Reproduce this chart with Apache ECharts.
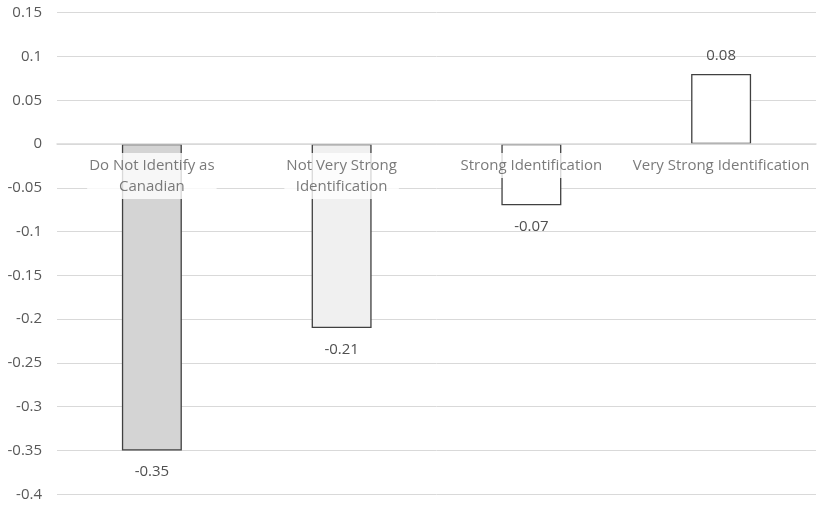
<!DOCTYPE html>
<html>
<head>
<meta charset="utf-8">
<script src="https://cdn.jsdelivr.net/npm/echarts@6/dist/echarts.min.js"></script>
<style>
html,body{margin:0;padding:0;background:#fff;}
#c{width:820px;height:505px;}
</style>
</head>
<body>
<div id="c"></div>
<script>
const categories = ["Do Not Identify as\nCanadian", "Not Very Strong\nIdentification", "Strong Identification", "Very Strong Identification"];
const values = [-0.35, -0.21, -0.07, 0.08];
const barFills = ["#d4d4d4", "#f0f0f0", "#ffffff", "#ffffff"];
const yMin = -0.4, yMax = 0.15, yStep = 0.05;

const FONT = "Open Sans";
const FS = 15;
const chart = echarts.init(document.getElementById('c'), null, {renderer: 'canvas'});
chart.setOption({
  animation: false,
  grid: {left: 57, right: 4, top: 12.7, bottom: 10.7, outerBoundsMode: 'none', containLabel: false},
  xAxis: {
    type: 'category',
    data: categories,
    z: 5,
    axisLine: {show: true, onZero: true, lineStyle: {color: '#d9d9d9', width: 1.5}},
    axisTick: {show: false},
    axisLabel: {show: false},
    splitLine: {show: false}
  },
  yAxis: {
    type: 'value',
    min: yMin, max: yMax, interval: yStep,
    axisLine: {show: false},
    axisTick: {show: false},
    axisLabel: {
      margin: 15,
      color: '#595959',
      fontFamily: FONT,
      fontSize: FS,
      formatter: v => String(parseFloat(v.toFixed(2)))
    },
    splitLine: {lineStyle: {color: '#d9d9d9', width: 1}}
  },
  series: [{
    type: 'bar',
    barWidth: '31.6%',
    z: 2,
    data: values.map((v, i) => ({
      value: v,
      itemStyle: {color: barFills[i]},
      label: v < 0 ? {position: 'bottom', distance: 14} : {position: 'top', distance: 11}
    })),
    itemStyle: {borderColor: '#404040', borderWidth: 1.3},
    label: {
      show: true,
      color: '#505050',
      fontFamily: FONT,
      fontSize: FS,
      formatter: p => String(p.value)
    }
  }, {
    type: 'scatter',
    z: 6,
    silent: true,
    symbolSize: 0,
    data: categories.map(c => [c, 0]),
    label: {
      show: true,
      position: 'bottom',
      distance: 9,
      formatter: p => p.value[0],
      color: '#595959',
      fontFamily: FONT,
      fontSize: FS,
      lineHeight: 21,
      align: 'center',
      backgroundColor: '#ffffff',
      padding: [2, 2, 2, 2]
    }
  }]
});
</script>
</body>
</html>
